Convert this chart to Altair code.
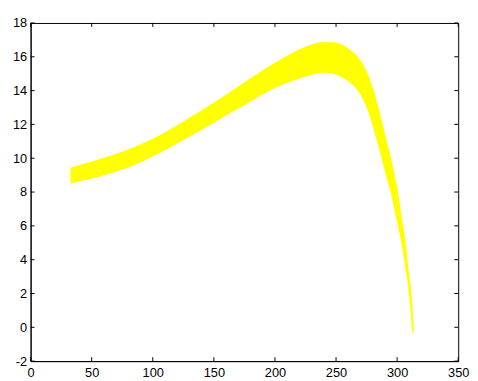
import altair as alt
import pandas as pd

# Band: x, lower edge, upper edge
x_vals = [32.7, 50, 77, 104, 128, 150, 175, 200, 225, 240, 250, 260, 270, 275, 280, 285, 290, 295, 300, 304, 307, 309, 311, 312.5, 313.5]
upper = [9.44, 9.80, 10.44, 11.3, 12.3, 13.3, 14.5, 15.65, 16.6, 16.88, 16.84, 16.49, 15.8, 15.15, 14.2, 12.95, 11.45, 10.0, 8.3, 6.4, 5.0, 3.6, 2.5, 1.3, -0.1]
lower = [8.51, 8.80, 9.38, 10.25, 11.2, 12.1, 13.15, 14.15, 14.82, 15.05, 14.94, 14.55, 13.75, 13.0, 11.9, 10.6, 9.2, 7.9, 6.2, 4.8, 3.4, 2.4, 0.9, -0.32, -0.35]

x_ticks = [0, 50, 100, 150, 200, 250, 300, 350]
y_ticks = [-2, 0, 2, 4, 6, 8, 10, 12, 14, 16, 18]

W, H = 435, 344
FONT = "Liberation Sans"

band = pd.DataFrame({"x": x_vals, "lo": lower, "hi": upper})
xt = pd.DataFrame({"v": x_ticks})
yt = pd.DataFrame({"v": y_ticks})

xscale = alt.Scale(domain=[0, 350], nice=False, zero=False)
yscale = alt.Scale(domain=[-2, 18], nice=False, zero=False)

common = dict(title=None, grid=False, ticks=False, tickSize=0,
              domainColor="black", labelColor="black", labelFont=FONT,
              labelFontSize=13, labelFlush=False, labelOverlap=False,
              labelExpr="replace(datum.label, '\u2212', '-')")
xaxis = alt.Axis(values=x_ticks, labelPadding=6, **common)
yaxis = alt.Axis(values=y_ticks, labelPadding=4, **common)

area = alt.Chart(band).mark_area(color="#FFFF00", interpolate="monotone", opacity=1).encode(
    x=alt.X("x:Q", scale=xscale, axis=xaxis),
    y=alt.Y("lo:Q", scale=yscale, axis=yaxis),
    y2="hi:Q",
)

tick_style = dict(color="black", strokeWidth=1)
bottom = alt.Chart(xt).mark_rule(**tick_style).encode(
    x=alt.X("v:Q", scale=xscale, axis=xaxis), y=alt.value(H), y2=alt.value(H - 4))
top = alt.Chart(xt).mark_rule(**tick_style).encode(
    x=alt.X("v:Q", scale=xscale, axis=xaxis), y=alt.value(0), y2=alt.value(4))
left = alt.Chart(yt).mark_rule(**tick_style).encode(
    y=alt.Y("v:Q", scale=yscale, axis=yaxis), x=alt.value(0), x2=alt.value(4))
right = alt.Chart(yt).mark_rule(**tick_style).encode(
    y=alt.Y("v:Q", scale=yscale, axis=yaxis), x=alt.value(W), x2=alt.value(W - 4))

chart = alt.layer(area, bottom, top, left, right).properties(
    width=W, height=H,
    autosize=alt.AutoSizeParams(type="none"),
    padding={"left": 23, "top": 12, "right": 12, "bottom": 17},
    background="white",
).configure_view(stroke="black", strokeWidth=1)

chart.save("out.html", embed_options={"renderer": "svg", "actions": False})
